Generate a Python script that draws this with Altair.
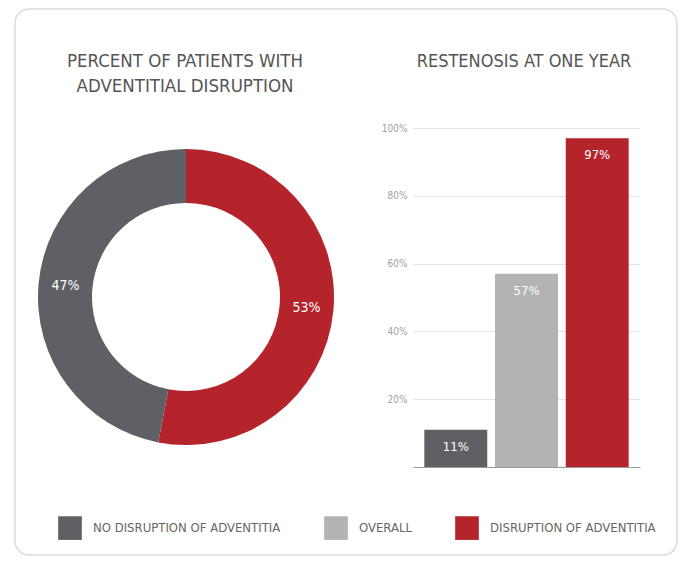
import altair as alt
import pandas as pd

FONT = "Liberation Sans Narrow, DejaVu Sans Condensed, Arial Narrow, sans-serif"

# ---- data / text ----
left_title = ["PERCENT OF PATIENTS WITH", "ADVENTITIAL DISRUPTION"]
right_title = "RESTENOSIS AT ONE YEAR"

donut_categories = ["DISRUPTION OF ADVENTITIA", "NO DISRUPTION OF ADVENTITIA"]
donut_values = [53, 47]
donut_labels = ["53%", "47%"]
donut_order = [0, 1]

bar_categories = ["NO DISRUPTION OF ADVENTITIA", "OVERALL", "DISRUPTION OF ADVENTITIA"]
bar_values = [11, 57, 97]
bar_labels = ["11%", "57%", "97%"]

legend_order = ["NO DISRUPTION OF ADVENTITIA", "OVERALL", "DISRUPTION OF ADVENTITIA"]
palette = ["#5e6066", "#b3b3b3", "#b5232b"]

grid_ticks = [0, 10, 20, 30, 40, 50, 60, 70, 80, 90, 100]
axis_labels = [20, 40, 60, 80, 100]

donut_df = pd.DataFrame({"category": donut_categories, "value": donut_values,
                         "label": donut_labels, "order": donut_order})
bar_df = pd.DataFrame({"category": bar_categories, "value": bar_values, "label": bar_labels})
one = pd.DataFrame({"k": [0]})

# ---- layout (pixels, relative to the bar plot origin) ----
CX, CY = -227, 169
R_OUT, R_IN = 148, 94

color = alt.Color(
    "category:N",
    scale=alt.Scale(domain=legend_order, range=palette),
    legend=alt.Legend(
        title=None, orient="none", legendX=-355, legendY=388, direction="horizontal",
        symbolType="square", symbolSize=560, symbolStrokeWidth=0,
        labelFont=FONT, labelFontSize=13, labelColor="#666666", labelOffset=11,
        labelLimit=400, columnPadding=43, padding=0,
    ),
)

card = alt.Chart(one).mark_rect(
    fill="white", fillOpacity=0, stroke="#dcdcdc", strokeWidth=1.5, cornerRadius=14
).encode(x=alt.value(-398), x2=alt.value(264), y=alt.value(-119), y2=alt.value(427))

ltitle = alt.Chart(one).mark_text(
    text=left_title, font=FONT, fontSize=18.5, color="#555555", align="center",
    baseline="alphabetic", lineHeight=25,
).encode(x=alt.value(-228), y=alt.value(-61))

rtitle = alt.Chart(one).mark_text(
    text=right_title, font=FONT, fontSize=18, color="#555555", align="center",
    baseline="alphabetic",
).encode(x=alt.value(111), y=alt.value(-61))

donut = alt.Chart(donut_df).mark_arc(radius=R_OUT, radius2=R_IN).encode(
    theta=alt.Theta("value:Q", stack=True),
    color=color,
    order=alt.Order("order:Q"),
    x=alt.value(CX), y=alt.value(CY),
)

donut_text = alt.Chart(donut_df).mark_text(
    radius=(R_OUT + R_IN) / 2, font=FONT, fontSize=14, color="white",
    align="center", baseline="middle",
).encode(
    theta=alt.Theta("value:Q", stack=True),
    order=alt.Order("order:Q"),
    detail="category:N",
    text="label:N",
    x=alt.value(CX), y=alt.value(CY),
)

label_expr = f"indexof({axis_labels}, datum.value) >= 0 ? datum.value + '%' : ''"

x_enc = alt.X(
    "category:N", sort=bar_categories,
    scale=alt.Scale(paddingInner=0.11, paddingOuter=0.16),
    axis=alt.Axis(title=None, labels=False, ticks=False, domain=True,
                  domainColor="#9a9a9a", domainWidth=1, grid=False),
)
y_enc = alt.Y(
    "value:Q", scale=alt.Scale(domain=[0, 100]),
    axis=alt.Axis(title=None, values=grid_ticks, labelExpr=label_expr, ticks=False,
                  domain=False, grid=True, gridColor="#e2e2e2", gridWidth=1,
                  labelFont=FONT, labelFontSize=10, labelColor="#a0a0a0",
                  labelPadding=6),
)

bars = alt.Chart(bar_df).mark_bar().encode(x=x_enc, y=y_enc, color=color)

bar_text = alt.Chart(bar_df).mark_text(
    dy=17, font=FONT, fontSize=13, color="white", align="center", baseline="middle"
).encode(x=alt.X("category:N", sort=bar_categories), y="value:Q", text="label:N")

chart = alt.layer(card, ltitle, rtitle, donut, donut_text, bars, bar_text).properties(
    width=227, height=339,
    padding={"left": 405, "top": 120, "right": 38, "bottom": 90},
    autosize=alt.AutoSizeParams(type="none"),
).configure(background="white").configure_view(stroke=None)

chart.save("out.html", embed_options={"renderer": "svg", "actions": False})
